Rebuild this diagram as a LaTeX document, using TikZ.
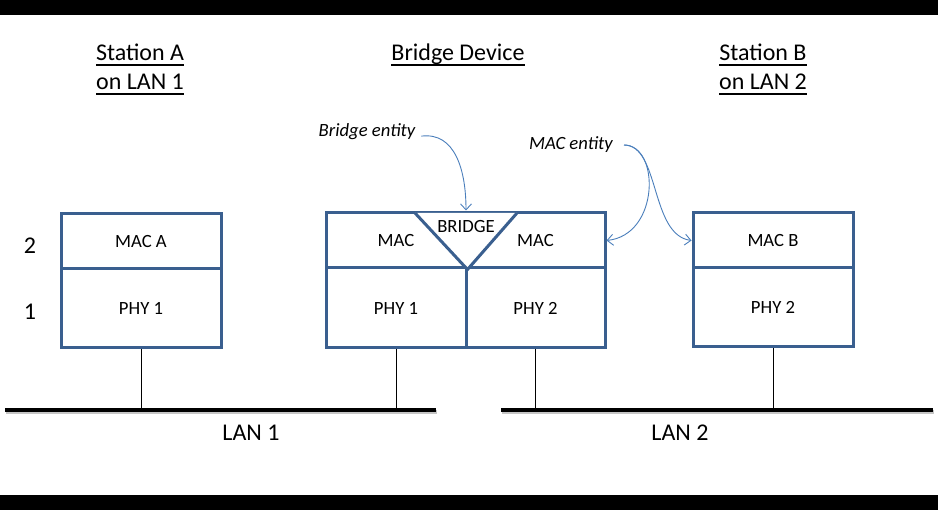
\documentclass[tikz,border=0pt]{standalone}
\usepackage{fontspec}
\setmainfont{Carlito}
\usetikzlibrary{arrows.meta,shadows}
\definecolor{boxblue}{HTML}{3A5F8F}
\definecolor{arrowblue}{HTML}{4A7EBB}
\newlength\myulwd
\newcommand\myul[1]{\settowidth{\myulwd}{#1}\rlap{\rule[-5pt]{\myulwd}{2pt}}#1}
\tikzset{
  cell/.style={draw=boxblue, line width=3pt, inner sep=0pt,
    font=\fontsize{18.67}{22}\selectfont},
  lbl/.style={inner sep=0pt, anchor=base, font=\fontsize{18.67}{22}\selectfont},
  biglbl/.style={inner sep=0pt, anchor=base, font=\fontsize{24}{29}\selectfont},
  entity/.style={inner sep=0pt, anchor=base, font=\fontsize{18.67}{22}\selectfont\itshape},
  lanbar/.style={fill=black, inner sep=0pt, minimum height=4pt,
    drop shadow={shadow xshift=1pt, shadow yshift=-2pt, fill=black!45, opacity=0.5}},
  drop/.style={draw=black, line width=1pt},
  pointer/.style={draw=arrowblue, line width=0.9pt, -{Straight Barb[length=6pt,width=11pt]}}
}
\begin{document}
\begin{tikzpicture}[x=1pt, y=-1pt]
\useasboundingbox (0,0) rectangle (938,510);
\fill[black] (0,0) rectangle (938,15);
\fill[black] (0,495) rectangle (938,510);

% titles
\node[biglbl] (tA1) at (140,61) {\myul{Station A}};
\node[biglbl] (tA2) at (140,90) {\myul{on LAN 1}};
\node[biglbl] (tBr) at (458,61) {\myul{Bridge Device}};
\node[biglbl] (tB1) at (763,61) {\myul{Station B}};
\node[biglbl] (tB2) at (763,90) {\myul{on LAN 2}};

% layer numbers
\node[biglbl] (n2) at (30,254) {2};
\node[biglbl] (n1) at (30,320) {1};

% station A
\node[cell, minimum width=160pt, minimum height=55pt] (macA) at (141,241.5) {MAC A};
\node[cell, minimum width=160pt, minimum height=79pt] (phyA) at (141,308.5) {PHY 1};

% bridge
\node[cell, minimum width=140pt, minimum height=55pt] (macL) at (396,240.5) {MAC};
\node[cell, minimum width=139pt, minimum height=55pt] (macR) at (535.5,240.5) {MAC};
\node[cell, minimum width=140pt, minimum height=80pt] (phyL) at (396,308) {PHY 1};
\node[cell, minimum width=139pt, minimum height=80pt] (phyR) at (535.5,308) {PHY 2};
\draw[boxblue, line width=3pt, fill=white, line join=miter]
  (415,213) -- (macL.south east) -- (517,213);
\node[lbl] (bridge) at (466,233) {BRIDGE};

% station B
\node[cell, minimum width=160pt, minimum height=55pt] (macB) at (773,240.5) {MAC B};
\node[cell, minimum width=160pt, minimum height=79pt] (phyB) at (773,307.5) {PHY 2};

% LANs
\node[lanbar, minimum width=431pt] (lan1) at (220.5,410) {};
\node[lanbar, minimum width=432pt] (lan2) at (717,410) {};
\node[biglbl] (lan1t) at (251,441) {LAN 1};
\node[biglbl] (lan2t) at (680,441) {LAN 2};

\draw[drop] (phyA.south) -- (phyA.south |- lan1.north);
\draw[drop] (phyL.south) -- (phyL.south |- lan1.north);
\draw[drop] (phyR.south) -- (phyR.south |- lan2.north);
\draw[drop] (phyB.south) -- (phyB.south |- lan2.north);

% entity labels and pointers
\node[entity] (brent) at (367,137) {Bridge entity};
\node[entity] (macent) at (571,150) {MAC entity};
\coordinate (brtop) at (466,210.5);
\draw[pointer] (brent.east) ++(6pt,-4pt) coordinate (bs)
  .. controls (455,132) and (466,170) .. (brtop);
\coordinate (ms) at (624,145);
\draw[pointer] (ms) .. controls (660,145) and (660,235) .. (macR.east);
\draw[pointer] (ms) .. controls (660,145) and (650,235) .. (macB.west);
\end{tikzpicture}
\end{document}
